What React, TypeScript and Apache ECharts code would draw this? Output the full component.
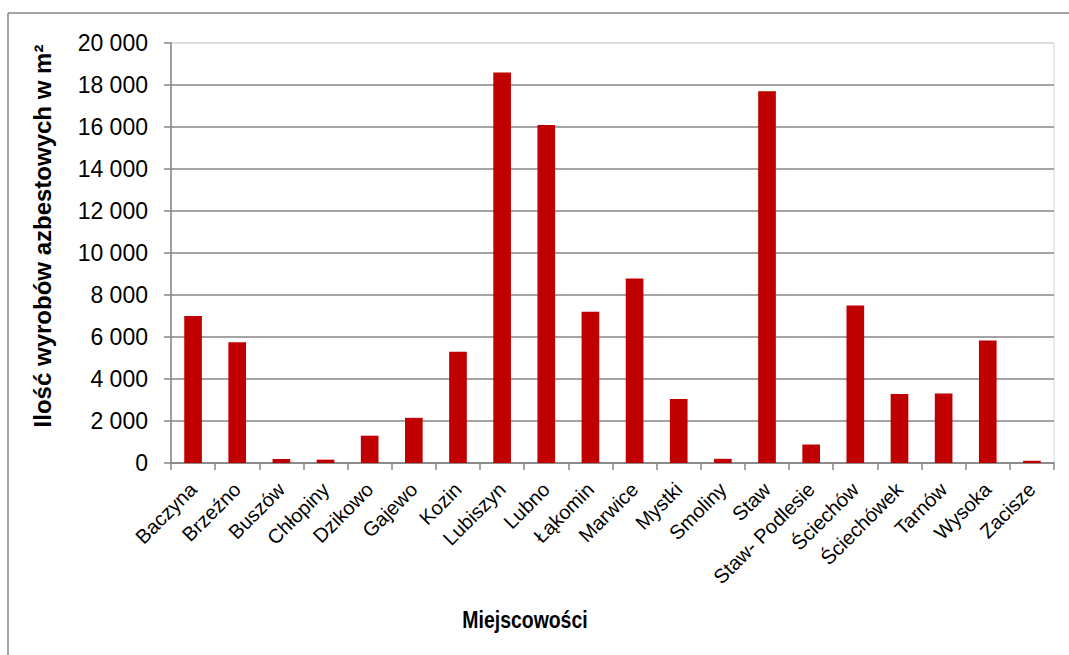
import React, { useEffect, useRef } from "react";
import * as echarts from "echarts";

const categories = [
  "Baczyna", "Brzeźno", "Buszów", "Chłopiny", "Dzikowo", "Gajewo", "Kozin",
  "Lubiszyn", "Lubno", "Łąkomin", "Marwice", "Mystki", "Smoliny", "Staw",
  "Staw- Podlesie", "Ściechów", "Ściechówek", "Tarnów", "Wysoka", "Zacisze",
];
const values = [
  7000, 5750, 190, 160, 1300, 2150, 5300, 18600, 16100, 7200, 8780, 3050,
  200, 17700, 880, 7500, 3280, 3310, 5830, 110,
];
const yTitle = "Ilość wyrobów azbestowych w m²";
const xTitle = "Miejscowości";

const fmt = (v: number) => String(v).replace(/\B(?=(\d{3})+(?!\d))/g, " ");

export default function App() {
  const ref = useRef<HTMLDivElement>(null);
  useEffect(() => {
    if (!ref.current) return;
    const chart = echarts.init(ref.current, undefined, { renderer: "svg" });
    const font = "'Liberation Sans', Arial, sans-serif";
    const gridColors = Array(10).fill("#868686").concat(["#d9d9d9"]);
    chart.setOption({
      animation: false,
      backgroundColor: "#ffffff",
      textStyle: { fontFamily: font },
      grid: {
        left: 171,
        right: 15,
        top: 43,
        bottom: 192,
        show: true,
        borderColor: "#d9d9d9",
        borderWidth: 1,
        backgroundColor: "transparent",
      },
      xAxis: {
        type: "category",
        data: categories,
        boundaryGap: true,
        axisLine: { lineStyle: { color: "#868686", width: 1.5 } },
        axisTick: { show: true, length: 7, inside: false, lineStyle: { color: "#868686", width: 1.5 } },
        axisLabel: {
          rotate: 45,
          interval: 0,
          margin: 23,
          color: "#000",
          fontSize: 20,
          fontFamily: font,
        },
      },
      yAxis: {
        type: "value",
        min: 0,
        max: 20000,
        interval: 2000,
        axisLine: { show: true, lineStyle: { color: "#868686", width: 1.5 } },
        axisTick: { show: true, length: 7, inside: false, lineStyle: { color: "#868686", width: 1.5 } },
        splitLine: { show: true, lineStyle: { color: gridColors, width: 1.5 } },
        axisLabel: {
          margin: 23,
          color: "#000",
          fontSize: 23,
          fontFamily: font,
          formatter: (v: number) => fmt(v),
        },
      },
      series: [
        {
          type: "bar",
          data: values,
          barWidth: "40%",
          itemStyle: { color: "#C00000" },
        },
      ],
      graphic: [
        {
          type: "line",
          shape: { x1: 8, y1: 13, x2: 1069, y2: 13 },
          style: { stroke: "#868686", lineWidth: 1.5 },
        },
        {
          type: "line",
          shape: { x1: 8, y1: 13, x2: 8, y2: 655 },
          style: { stroke: "#868686", lineWidth: 1.5 },
        },
        {
          type: "text",
          x: 42,
          y: 236,
          rotation: Math.PI / 2,
          style: {
            text: yTitle,
            fontFamily: font,
            fontWeight: "bold",
            fontSize: 24,
            fill: "#000",
            textAlign: "center",
            textVerticalAlign: "middle",
          },
        },
        {
          type: "text",
          x: 525,
          y: 620,
          scaleX: 0.81,
          style: {
            text: xTitle,
            fontFamily: font,
            fontWeight: "bold",
            fontSize: 24,
            fill: "#000",
            textAlign: "center",
            textVerticalAlign: "middle",
          },
        },
      ],
    });
    return () => chart.dispose();
  }, []);
  return (
    <div
      ref={ref}
      style={{ position: "absolute", left: 0, top: 0, width: 1069, height: 655 }}
    />
  );
}
